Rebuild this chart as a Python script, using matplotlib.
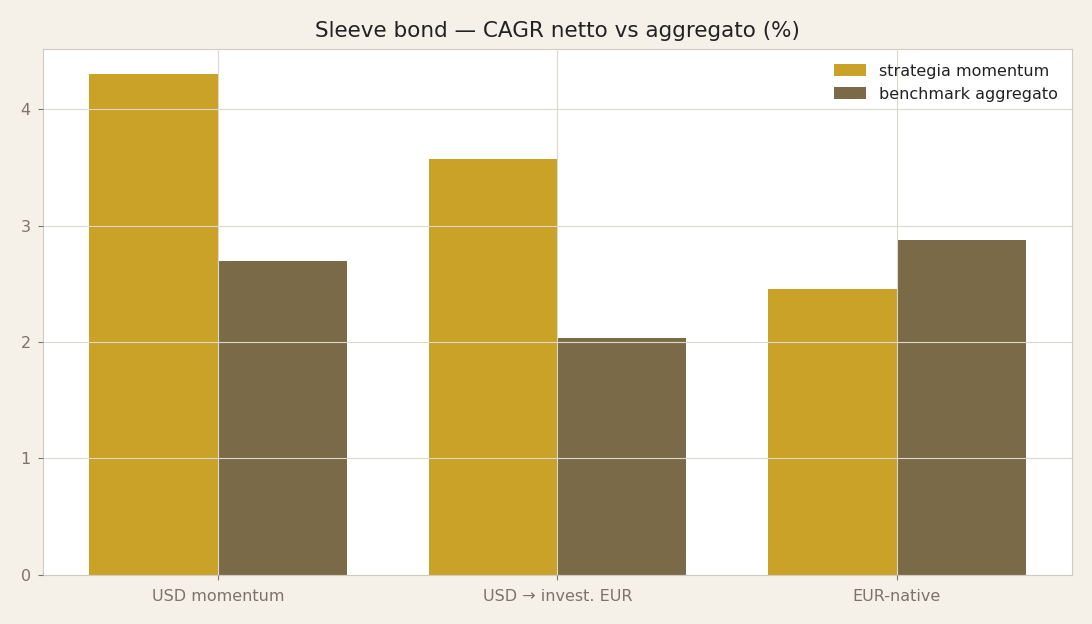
import matplotlib
matplotlib.use("Agg")
import matplotlib.pyplot as plt
import numpy as np

categories = ["USD momentum", "USD \u2192 invest. EUR", "EUR-native"]
strategia = [4.30, 3.57, 2.455]
benchmark = [2.70, 2.03, 2.88]

fig, ax = plt.subplots(figsize=(10.92, 6.24), dpi=100)
fig.patch.set_facecolor("#f5f0e8")
ax.set_facecolor("white")

x = np.arange(len(categories))
w = 0.38
ax.bar(x - w / 2, strategia, w, color="#c9a227", label="strategia momentum")
ax.bar(x + w / 2, benchmark, w, color="#7b6a47", label="benchmark aggregato")

ax.set_xticks(x)
ax.set_xticklabels(categories)
ax.set_axisbelow(False)
ax.grid(True, color="#ddd8cc", linewidth=0.8)
for s in ax.spines.values():
    s.set_color("#d0cbc0")
ax.tick_params(colors="#7a746a", labelsize=11.5)
ax.tick_params(axis="x", pad=7)
ax.tick_params(axis="y", pad=5)

ax.set_title("Sleeve bond \u2014 CAGR netto vs aggregato (%)", fontsize=15.5, color="#222222", pad=9)
leg = ax.legend(frameon=False, fontsize=11.5, loc="upper right")
for t in leg.get_texts():
    t.set_color("#222222")

fig.subplots_adjust(left=0.039, right=0.982, top=0.921, bottom=0.079)
fig.savefig("out.png", dpi=100, facecolor=fig.get_facecolor())
